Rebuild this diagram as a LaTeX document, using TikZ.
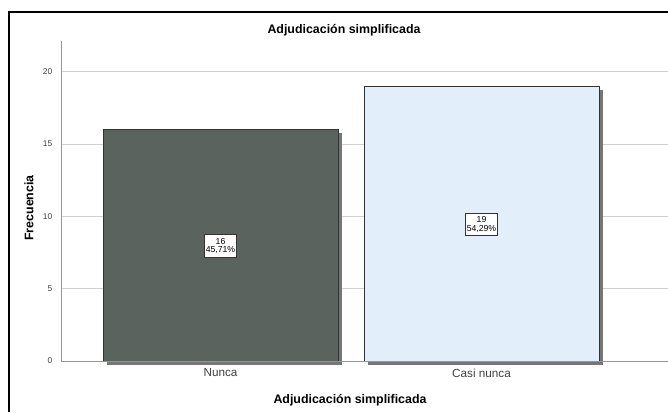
\documentclass[tikz,border=0pt]{standalone}
\usepackage{fontspec}
\setmainfont{Liberation Sans}
\usepackage{tikz}
\definecolor{barnunca}{RGB}{90,99,93}
\definecolor{barcasi}{RGB}{226,238,250}
\definecolor{gridgray}{RGB}{208,208,208}
\definecolor{axisgray}{RGB}{150,150,150}
\definecolor{shadowgray}{RGB}{118,118,118}
\tikzset{
    gridline/.style={draw=gridgray, line width=0.75pt},
    barbox/.style={draw=black!80, line width=0.75pt},
    barshadow/.style={fill=shadowgray},
    valbox/.style={draw=black!80, fill=white, line width=0.6pt, align=center,
            inner xsep=1pt, inner ysep=2.4pt, font=\fontsize{6.5}{6.6}\selectfont},
    ticklabel/.style={anchor=east, text=black!75, font=\fontsize{6.3}{7}\selectfont},
    catlabel/.style={text=black!75, font=\fontsize{8.8}{10}\selectfont},
    axistitle/.style={font=\fontsize{9.3}{11}\selectfont\bfseries},
}

\begin{document}
\begin{tikzpicture}[x=0.75pt, y=-0.75pt]
        \useasboundingbox (0,0) rectangle (668,412);
        %draw outer frame
        \draw[line width=1.5pt] (9,412) -- (9,12) -- (668,12);
        %draw grid lines and tick labels
        \foreach \v in {5,10,15,20}
            \draw[gridline] (61,{361-14.46*\v}) -- (668,{361-14.46*\v});
        \foreach \v in {0,5,10,15,20}
            \node[ticklabel] (tick\v) at (57,{361-14.46*\v}) {\v};
        %draw bar shadows
        \fill[barshadow] (107,133) rectangle (342,365);
        \fill[barshadow] (368,90) rectangle (603,365);
        %draw bars
        \draw[barbox, fill=barnunca] (103,129) rectangle (338,361);
        \draw[barbox, fill=barcasi] (364,86) rectangle (599,361);
        %draw x and y axis
        \draw[axisgray, line width=0.75pt] (61,41) -- (61,361) -- (668,361);
        %label bars
        \node[valbox] (valnunca) at (220.5,246) {16\\45,71\%};
        \node[valbox] (valcasi) at (481.5,224.5) {19\\54,29\%};
        %label categories
        \node[catlabel] (catnunca) at (220.5,373) {Nunca};
        \node[catlabel] (catcasi) at (481.5,373) {Casi nunca};
        %label chart and axes
        \node[axistitle] (title) at (344,30) {Adjudicación simplificada};
        \node[axistitle] (xtitle) at (350,400) {Adjudicación simplificada};
        \node[axistitle, rotate=90] (ytitle) at (29,208) {Frecuencia};
    \end{tikzpicture}
\end{document}
